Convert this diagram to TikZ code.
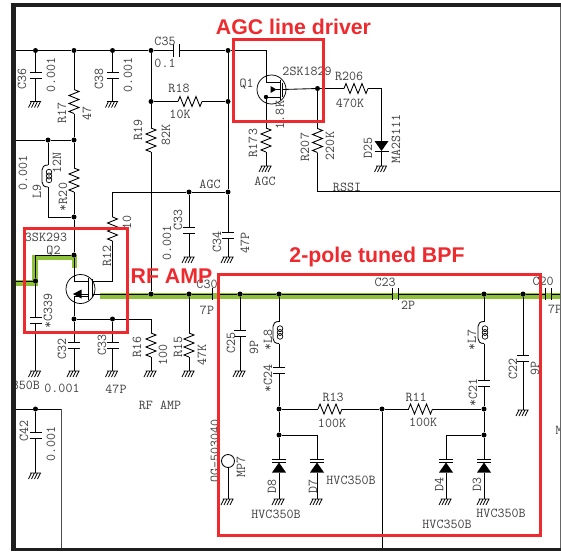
\documentclass[tikz,border=0pt]{standalone}
\usepackage{fontspec}
\setmainfont{Liberation Sans}
\definecolor{rfred}{HTML}{EE2A2E}
\definecolor{rfgreen}{HTML}{8DC13A}
\definecolor{labgrey}{HTML}{404040}
\tikzset{
  wire/.style={line width=0.85pt,black},
  dot/.style={circle,fill=black,draw=none,minimum size=5pt,inner sep=0pt},
  lab/.style={font=\ttfamily\fontsize{13.6}{14}\selectfont,text=labgrey,inner sep=0pt},
  rot/.style={lab,rotate=90},
  title/.style={font=\bfseries\fontsize{21.3}{22}\selectfont,text=rfred,inner sep=0pt},
  redbox/.style={draw=rfred,line width=3pt},
  greenrun/.style={draw=rfgreen,line width=5.5pt},
  resv/.pic={\draw[wire] (0,-12)--(5,-10)--(-5,-6)--(5,-2)--(-5,2)--(5,6)--(-5,10)--(0,12);
    \coordinate (-a) at (0,-12); \coordinate (-b) at (0,12);},
  resh/.pic={\draw[wire] (-12,0)--(-10,-5)--(-6,5)--(-2,-5)--(2,5)--(6,-5)--(10,5)--(12,0);
    \coordinate (-a) at (-12,0); \coordinate (-b) at (12,0);},
  capv/.pic={\draw[wire] (-6,-3)--(6,-3) (-6,3)--(6,3);
    \coordinate (-a) at (0,-3); \coordinate (-b) at (0,3);},
  caph/.pic={\draw[wire] (-3,-6)--(-3,6) (3,-6)--(3,6);
    \coordinate (-a) at (-3,0); \coordinate (-b) at (3,0);},
  gnd/.pic={\draw[wire] (-5.5,0)--(5.5,0) (-4,0)--(-7,6) (-1,0)--(-4,6) (2,0)--(-1,6) (5,0)--(2,6);
    \coordinate (-a) at (0,0);},
  coil/.pic={\draw[wire] (0,-11) .. controls (-4,-11) and (-6,-9) .. (-6,-6) -- (-6,6) .. controls (-6,9) and (-4,11) .. (0,11);
    \draw[wire,line width=0.7pt] (1,-3.8) ellipse (2.8 and 3) (1,0) ellipse (2.8 and 3) (1,3.8) ellipse (2.8 and 3);
    \coordinate (-a) at (0,-11); \coordinate (-b) at (0,11);},
  varicap/.pic={\draw[wire] (-7,-3.5)--(7,-3.5) (-7,0)--(7,0);
    \fill (0,0)--(7,10)--(-7,10)--cycle;
    \coordinate (-a) at (0,-3.5); \coordinate (-b) at (0,10);},
  diodedn/.pic={\fill (-7,-10)--(7,-10)--(0,0)--cycle; \draw[wire] (-7,0)--(7,0);
    \coordinate (-a) at (0,-10); \coordinate (-b) at (0,0);},
  fetone/.pic={\draw[wire,line width=0.75pt] (0,0) circle (14.5);
    \draw[wire] (-5.5,-7.5)--(8.5,-7.5) (-5.5,7.5)--(8.5,7.5) (8.5,-10)--(8.5,10) (11,-7)--(11,7) (8.5,0)--(-1,0);
    \fill (-1,-3.5)--(5,0)--(-1,3.5)--cycle;
    \fill (-5.5,7.5) circle (2.2);
    \coordinate (-d) at (-5.5,-7.5); \coordinate (-s) at (-5.5,7.5); \coordinate (-g) at (11,0);},
  fettwo/.pic={\draw[wire,line width=0.75pt] (0,0) circle (14.5);
    \draw[wire] (-6.5,-8)--(8,-8) (-6.5,7.5)--(8,7.5) (8,-11)--(8,11) (12,-10)--(12,8) (8,5)--(-7,5);
    \fill (-7.5,5)--(1,0.5)--(1,9.5)--cycle;
    \coordinate (-d) at (-6.5,-8); \coordinate (-s) at (-6.5,7.5);
    \coordinate (-ga) at (12,-8); \coordinate (-gb) at (12,5);},
}
\begin{document}
\begin{tikzpicture}[x=1pt,y=-1pt]
\useasboundingbox (0,0) rectangle (561,551);
\fill[white] (0,0) rectangle (561,551);
% green signal path
\draw[greenrun,line cap=butt] (16,283)--(35,283)--(35,257.5)--(74.5,257.5)--(74.5,268);
\draw[greenrun,line width=6pt] (100,296)--(561,296);
% junctions
\foreach \n/\x/\y in {j36/35.5/50.5,j17/74/50.5,j38/112.5/50.5,j19/151/50.5,jt/228/50.5,
  r18l/151/101.5,r18r/228/101.5,j140/74/140,l9t/48/140,jb/74/217,jagc/189/192,jagr/228/192,
  jq2/74/255,jc339/35.5/281,js/74/319,js2/112.5/319,jm1/151/294,jm2/189/294,
  jm3/240/294,jm4/279/294,jm5/484/294,jm6/523/294,jq1/317.5/88.5,
  jl/279/409,jc/382/409,jr/484/409,jld/279/435,jrd/484/435,jc42/35.5/409}
  \node[dot] (\n) at (\x,\y) {};
% free ends and corners
\foreach \n/\x/\y in {tl/16/50.5,tq/266/50.5,l1/16/140,bc/48/217,aq/112.5/192,gq/112.5/281,
  sc/151/319,cq/35.5/255,ll/16/281,me/561/294,d7c/317/435,d4c/446/435,
  rc/381.5/88.5,rsc/317.5/191,rse/560/191,l42/16/409,c42c/61/409,c42e/61/549,cbot/382/549}
  \coordinate (\n) at (\x,\y);
% components
\pic (c35) at (176.5,50.5) {caph};
\pic (c36) at (35.5,75.5) {capv};
\pic (c38) at (112.5,75.5) {capv};
\pic (c339) at (35.5,320) {capv};
\pic (c32) at (74,345) {capv};
\pic (c33a) at (112.5,345) {capv};
\pic (c33) at (189,230) {capv};
\pic (c34) at (228,235) {capv};
\pic (c42) at (35.5,435) {capv};
\pic (c30) at (215,294) {caph};
\pic (c23) at (395,294) {caph};
\pic (c20) at (548.5,294) {caph};
\pic (c25) at (240,333) {capv};
\pic (c24) at (279,370.5) {capv};
\pic (c21) at (484,383.5) {capv};
\pic (c22) at (523,358) {capv};
\pic (r17) at (74,101.5) {resv};
\pic (r20) at (74,180) {resv};
\pic (r19) at (151,140) {resv};
\pic (r12) at (112.5,229) {resv};
\pic (r16) at (151,345) {resv};
\pic (r15) at (189,345) {resv};
\pic (r173) at (266,140) {resv};
\pic (r207) at (317.5,140.5) {resv};
\pic (r18) at (190,101.5) {resh};
\pic (r206) at (356,88.5) {resh};
\pic (r13) at (330,409) {resh};
\pic (r11) at (420.5,409) {resh};
\pic (l9) at (48,176) {coil};
\pic (l8) at (279,332.5) {coil};
\pic (l7) at (484,332.5) {coil};
\pic (d25) at (381.5,151) {diodedn};
\pic (d8) at (279,462.5) {varicap};
\pic (d7) at (317,462.5) {varicap};
\pic (d4) at (446,462.5) {varicap};
\pic (d3) at (484,462.5) {varicap};
\pic (q1) at (271.5,89.5) {fetone};
\pic (q2) at (80.5,289) {fettwo};
\foreach \n/\x/\y in {g36/35.5/101.5,g38/112.5/101.5,g173/266/166,g25/381.5/166,g339/35.5/371,g32/74/371,
  g33a/112.5/371,g16/151/371,g15/189/371,g33/189/257,g34/228/257,gc25/240/371,gc22/523/410,g42/35.5/473,
  gd8/279/499,gd7/317/499,gd4/446/499,gd3/484/499,gmp/228/499}
  \pic (\n) at (\x,\y) {gnd};
\node[draw,wire,circle,minimum size=13pt,inner sep=0pt] (mp7) at (228,461) {};
% connectors
\draw[wire] (tl)--(j36)--(j17)--(j38)--(j19)--(c35-a) (c35-b)--(jt)--(tq)--(q1-d);
\draw[wire] (j36)--(c36-a) (c36-b)--(g36-a) (j38)--(c38-a) (c38-b)--(g38-a);
\draw[wire] (j17)--(r17-a) (r17-b)--(j140) (l1)--(l9t)--(j140) (j140)--(r20-a) (r20-b)--(jb);
\draw[wire] (l9t)--(l9-a) (l9-b)--(bc)--(jb) (jb)--(jq2)--(q2-d);
\draw[wire] (j19)--(r18l)--(r19-a) (r19-b)--(jm1) (r18l)--(r18-a) (r18-b)--(r18r);
\draw[wire] (jt)--(r18r)--(jagr)--(c34-a) (c34-b)--(g34-a);
\draw[wire] (aq)--(jagc)--(jagr) (jagc)--(c33-a) (c33-b)--(g33-a);
\draw[wire] (aq)--(r12-a) (r12-b)--(gq)--(q2-ga);
\draw[wire] (ll)--(jc339)--(cq)--(jq2) (jc339)--(c339-a) (c339-b)--(g339-a);
\draw[wire] (q2-s)--(js)--(c32-a) (c32-b)--(g32-a) (js)--(js2)--(sc)--(r16-a) (r16-b)--(g16-a);
\draw[wire] (js2)--(c33a-a) (c33a-b)--(g33a-a);
\draw[wire] (q2-gb)--(jm1)--(jm2)--(c30-a) (c30-b)--(jm3)--(jm4)--(c23-a) (c23-b)--(jm5)--(jm6)--(c20-a) (c20-b)--(me);
\draw[wire] (jm2)--(r15-a) (r15-b)--(g15-a);
\draw[wire] (jm3)--(c25-a) (c25-b)--(gc25-a) (jm6)--(c22-a) (c22-b)--(gc22-a);
\draw[wire] (jm4)--(l8-a) (l8-b)--(c24-a) (c24-b)--(jl)--(r13-a) (r13-b)--(jc)--(r11-a) (r11-b)--(jr);
\draw[wire] (jm5)--(l7-a) (l7-b)--(c21-a) (c21-b)--(jr);
\draw[wire] (jc)--(cbot);
\draw[wire] (jl)--(jld)--(d8-a) (d8-b)--(gd8-a) (jld)--(d7c)--(d7-a) (d7-b)--(gd7-a);
\draw[wire] (jr)--(jrd)--(d3-a) (d3-b)--(gd3-a) (jrd)--(d4c)--(d4-a) (d4-b)--(gd4-a);
\draw[wire] (mp7)--(gmp-a);
\draw[wire] (q1-s)--(r173-a) (r173-b)--(g173-a);
\draw[wire] (q1-g)--(jq1)--(r206-a) (r206-b)--(rc)--(d25-a) (d25-b)--(g25-a);
\draw[wire] (jq1)--(r207-a) (r207-b)--(rsc)--(rse);
\draw[wire] (l42)--(jc42)--(c42c) (jc42)--(c42-a) (c42-b)--(g42-a);
\draw[wire,draw=black!70] (c42c)--(c42e);
% horizontal labels
\foreach \t/\x/\y [count=\i] in {C35/165/41,0.1/165/63,R18/179/88,10K/180/114,Q1/246.5/84,AGC/210/184,AGC/265/181,
  2SK1829/307/71,R206/349/76,470K/350/103,RSSI/347/187,3SK293/46/237.5,Q2/53.5/251,
  0.001/62/388,47P/116/389,RF AMP/160/405,C30/207/284,7P/207/310,C23/385/282,2P/408/305,C20/543/281,
  R13/333/397,100K/332/423,R11/416/397,100K/423/422,HVC350B/351/480,HVC350B/276/514,HVC350B/501/513,HVC350B/447/524}
  \node[lab] (h\i) at (\x,\y) {\t};
\node[lab,anchor=east] (h350) at (40,385) {350B};
\node[lab] (h7p) at (555,309) {7P};
\node[lab] (hm) at (559,430) {M};
% rotated labels
\foreach \t/\x/\y [count=\i] in {C36/22/79,0.001/51/75,R17/62/113,47/87/113,C38/99/79,0.001/128/75,R19/138/130,82K/166/135,
  1.8K/280/115,R173/253/143,R207/305/147,220K/330/146,D25/368/148,MA2S111/396/139,
  R12/107/256,10/127/222,*C339/48/311,L9/37/192,0.001/23/173,12N/57/163,*R20/63/197,C32/62/349,C33/102/345,C33/178/220,
  0.001/167/243,C34/217/242,47P/245/243,R16/137/347,100/163/355,R15/178/347,47K/202/355,
  C25/231/343,9P/254/347,*L8/268/340,*C24/268/378,*L7/472/340,*C21/473/392,C22/513/369,9P/535/368,
  D8/272/486,D7/313/486,D4/439/484,D3/477/484,MP7/241/467,OG-503040/215/451,C42/24/431,0.001/51/444}
  \node[rot] (v\i) at (\x,\y) {\t};
% page frame
\fill[black!88] (11,3) rectangle (16,551);
\fill[black!88] (11,3) rectangle (561,7);
\fill[black!88] (11,548) rectangle (561,551);
\draw[line width=1pt,black!60] (560,7)--(560,548);
% red call-outs
\node[redbox,minimum width=90pt,minimum height=81pt,inner sep=0pt] (agcbox) at (278,80.5) {};
\node[redbox,minimum width=103pt,minimum height=104pt,inner sep=0pt] (rfbox) at (75.5,280) {};
\node[redbox,minimum width=322pt,minimum height=261pt,inner sep=0pt] (bpfbox) at (379,404.5) {};
\node[title] (t1) at (293.5,27) {AGC line driver};
\node[title] (t2) at (171.5,276) {RF AMP};
\node[title] (t3) at (377,257) {2-pole tuned BPF};
\end{tikzpicture}
\end{document}
